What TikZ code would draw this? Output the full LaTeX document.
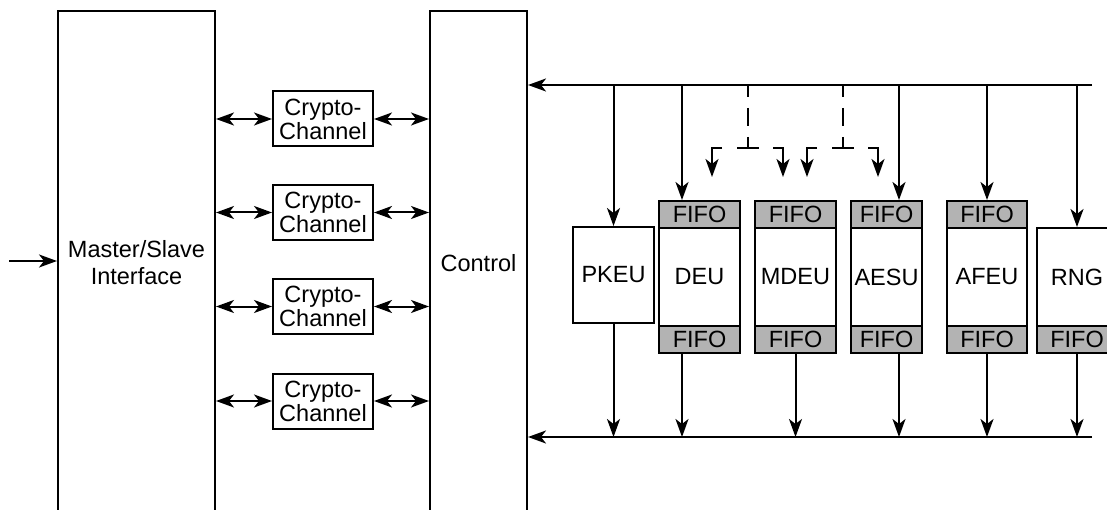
\documentclass[tikz,border=0pt]{standalone}
\usepackage{fontspec}
\setmainfont{Liberation Sans}
\usetikzlibrary{arrows.meta}
\definecolor{fifogray}{RGB}{179,179,179}
\begin{document}
\begin{tikzpicture}[x=1pt,y=-1pt,
  every node/.style={font=\fontsize{23.5}{24}\selectfont, inner sep=0pt, align=center},
  box/.style={draw, line width=2pt},
  fifo/.style={draw, line width=2pt, fill=fifogray, minimum height=27pt},
  unit/.style={draw, line width=2pt, minimum height=98pt},
  tip/.tip={Stealth[length=18pt,width=13pt,inset=5pt]},
  arr/.style={line width=2pt, -tip},
  darr/.style={line width=2pt, tip-tip},
  seg/.style={line width=2pt}
]
\useasboundingbox (0,0) rectangle (1107,510);
\clip (0,0) rectangle (1107,510);

% big boxes
\node[box, minimum width=157pt, minimum height=504pt, font=\fontsize{23.5}{27}\selectfont] (ms) at (136.5,263) {Master/Slave\\Interface};
\node[box, minimum width=97pt, minimum height=504pt] (ctrl) at (478.5,263) {Control};

% input
\coordinate (in) at (9,261);
\draw[arr] (in) -- (in -| ms.west);

% crypto channels
\foreach \n/\y in {1/119, 2/212.5, 3/306.5, 4/401} {
  \node[box, minimum width=100pt, minimum height=55pt] (cc\n) at (323,\y) {Crypto-\\Channel};
  \draw[darr] (ms.east |- cc\n) -- (cc\n.west);
  \draw[darr] (cc\n.east) -- (ctrl.west |- cc\n);
}

% execution units
\node[unit, minimum width=81pt, minimum height=96pt] (pkeu) at (613.5,275) {PKEU};

\node[unit, minimum width=81pt] (deu) at (699.5,277) {DEU};
\node[fifo, minimum width=81pt] (deuT) at (699.5,214.5) {FIFO};
\node[fifo, minimum width=81pt] (deuB) at (699.5,339.5) {FIFO};

\node[unit, minimum width=81pt] (mdeu) at (795.5,277) {MDEU};
\node[fifo, minimum width=81pt] (mdeuT) at (795.5,214.5) {FIFO};
\node[fifo, minimum width=81pt] (mdeuB) at (795.5,339.5) {FIFO};

\node[unit, minimum width=71pt] (aesu) at (886.5,277) {AESU};
\node[fifo, minimum width=71pt] (aesuT) at (886.5,214.5) {FIFO};
\node[fifo, minimum width=71pt] (aesuB) at (886.5,339.5) {FIFO};

\node[unit, minimum width=80pt] (afeu) at (987,277) {AFEU};
\node[fifo, minimum width=80pt] (afeuT) at (987,214.5) {FIFO};
\node[fifo, minimum width=80pt] (afeuB) at (987,339.5) {FIFO};

\node[unit, minimum width=80pt] (rng) at (1077,277) {RNG};
\node[fifo, minimum width=80pt] (rngB) at (1077,339.5) {FIFO};

% top bus
\coordinate (tbR) at (1092,85);
\draw[arr] (tbR) -- (ctrl.east |- tbR);
\coordinate (d1) at (613.5,85);
\coordinate (d2) at (682,85);
\coordinate (d4) at (899,85);
\coordinate (d5) at (987,85);
\coordinate (d6) at (1077,85);
\draw[arr] (d1) -- (pkeu.north);
\draw[arr] (d2) -- (d2 |- deuT.north);
\draw[arr] (d4) -- (d4 |- aesuT.north);
\draw[arr] (d5) -- (afeuT.north);
\draw[arr] (d6) -- (rng.north);

% dashed selection paths
\foreach \o in {0,95} {
  \draw[seg] (748+\o,85) -- (748+\o,97);
  \draw[seg] (748+\o,108) -- (748+\o,126);
  \draw[seg] (748+\o,137) -- (748+\o,148);
  \draw[seg] (737+\o,148) -- (759+\o,148);
  \draw[arr] (722+\o,148) -- (712+\o,148) -- (712+\o,177);
  \draw[arr] (773+\o,148) -- (783+\o,148) -- (783+\o,177);
}

% bottom bus
\coordinate (bbR) at (1092,437);
\draw[arr] (bbR) -- (ctrl.east |- bbR);
\draw[arr] (pkeu.south) -- (pkeu.south |- bbR);
\draw[arr] (d2 |- deuB.south) -- (d2 |- bbR);
\draw[arr] (mdeuB.south) -- (mdeuB.south |- bbR);
\draw[arr] (d4 |- aesuB.south) -- (d4 |- bbR);
\draw[arr] (afeuB.south) -- (afeuB.south |- bbR);
\draw[arr] (rngB.south) -- (rngB.south |- bbR);
\end{tikzpicture}
\end{document}
